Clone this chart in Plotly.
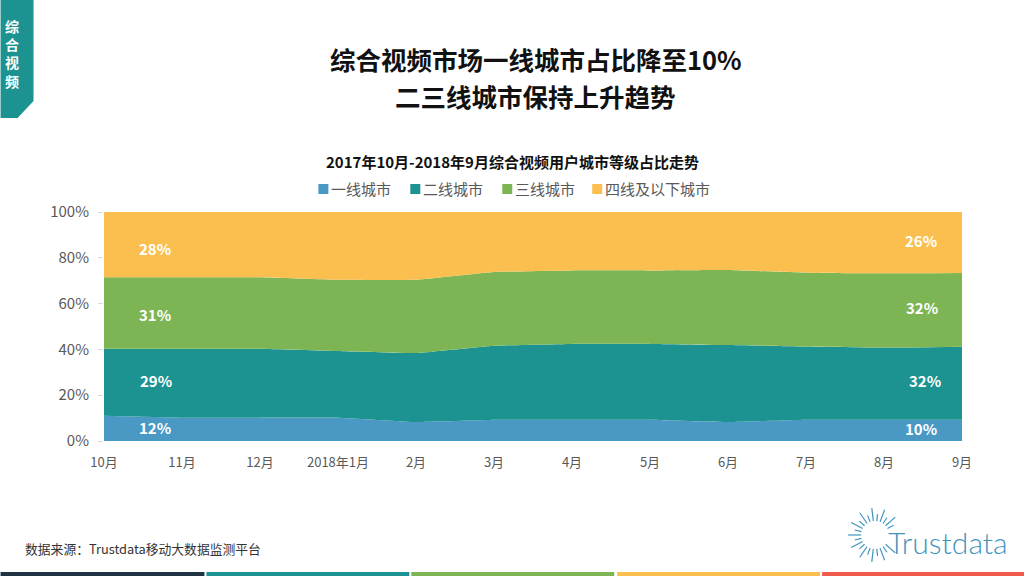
import math
import plotly.graph_objects as go

months = ["10月", "11月", "12月", "2018年1月", "2月", "3月", "4月", "5月", "6月", "7月", "8月", "9月"]
y_ticks = [0, 20, 40, 60, 80, 100]
y_labels = ["0%", "20%", "40%", "60%", "80%", "100%"]

names = ["一线城市", "二线城市", "三线城市", "四线及以下城市"]
tier1 = [11.0, 10.2, 10.2, 10.2, 8.3, 9.3, 9.3, 9.3, 8.3, 9.3, 9.3, 9.3]
tier2 = [29.3, 30.1, 30.1, 29.1, 30.1, 32.3, 33.1, 33.1, 33.6, 32.0, 31.5, 31.9]
tier3 = [31.2, 31.2, 31.2, 31.1, 32.0, 32.2, 32.1, 32.1, 32.8, 32.2, 32.4, 32.2]
tier4 = [28.5, 28.5, 28.5, 29.6, 29.6, 26.2, 25.5, 25.5, 25.3, 26.5, 26.8, 26.6]
colors = ["#4a98c4", "#1c9391", "#7db554", "#fbbf4f"]

label_text = ["12%", "29%", "31%", "28%", "10%", "32%", "32%", "26%"]
label_x = [0.66, 0.67, 0.66, 0.65, 10.47, 10.52, 10.49, 10.48]
label_y = [5.8, 26.3, 55.1, 83.9, 5.4, 26.3, 58.1, 87.4]

FONT = "Noto Sans CJK SC"
W, H = 1024, 576
L, R, T, B = 103.5, 962, 212, 441


def px(x):
    return (x - L) / (R - L)


def py(y):
    return (B - y) / (B - T)


fig = go.Figure()
x = list(range(len(months)))
for name, vals, col in zip(names, [tier1, tier2, tier3, tier4], colors):
    fig.add_trace(go.Scatter(
        x=x, y=vals, name=name, stackgroup="one", mode="lines", fillcolor=col,
        line=dict(width=0, color=col, shape="spline", smoothing=0.25),
        showlegend=False, hoverinfo="skip",
    ))

for t, lx, ly in zip(label_text, label_x, label_y):
    fig.add_annotation(x=lx, y=ly, text=t, showarrow=False,
                       font=dict(family=FONT, size=15, color="white", weight="bold"))


def paper_text(text, x, y, size, color, bold=False, family=FONT, xanchor="center", weight=None):
    fig.add_annotation(xref="paper", yref="paper", x=px(x), y=py(y), text=text, showarrow=False,
                       xanchor=xanchor, yanchor="middle",
                       font=dict(family=family, size=size, color=color,
                                 weight=weight or ("bold" if bold else "normal")))


def paper_rect(x0, y0, x1, y1, col):
    fig.add_shape(type="rect", xref="paper", yref="paper", line_width=0, fillcolor=col,
                  x0=px(x0), x1=px(x1), y0=py(y0), y1=py(y1))


paper_text("综合视频市场一线城市占比降至10%", 535.5, 58, 25.5, "#111111", True)
paper_text("二三线城市保持上升趋势", 535.5, 96, 25.5, "#111111", True)
paper_text("2017年10月-2018年9月综合视频用户城市等级占比走势", 512.5, 161, 15, "#111111", True)
paper_text("数据来源：Trustdata移动大数据监测平台", 22, 548, 12.8, "#333333", xanchor="left")

# legend row
for name, col, sx in zip(names, colors, [318, 410, 502, 592]):
    paper_rect(sx, 184, sx + 10, 194, col)
    paper_text(name, sx + 11, 188, 15, "#595959", xanchor="left")

# corner tag
paper_text("综<br>合<br>视<br>频", 11.5, 53, 14, "white", True)
fig.add_shape(type="path", xref="paper", yref="paper", layer="below", line_width=0,
              fillcolor="#1c9391",
              path=f"M {px(0)} {py(0)} L {px(33)} {py(0)} L {px(33)} {py(101)} L {px(17)} {py(118)} L {px(0)} {py(118)} Z")

# bottom strip
for x0, x1, col in [(0, 204, "#1f3344"), (206, 409, "#1c9391"), (411, 614, "#7db554"),
                    (617, 820, "#fbbf4f"), (822, 1024, "#ef5a4c")]:
    paper_rect(x0, 572, x1, 576, col)

# logo
n_rays = 26
for i in range(n_rays):
    deg = 360 * i / n_rays
    if deg < 35 or deg > 345:  # room for the T
        continue
    a = math.radians(deg)
    r0, r1 = 14, 27 if i % 2 else 21
    fig.add_shape(type="line", xref="paper", yref="paper",
                  line=dict(color="#3f95bf", width=1.2),
                  x0=px(875 + r0 * math.cos(a)), y0=py(535 + r0 * math.sin(a)),
                  x1=px(875 + r1 * math.cos(a)), y1=py(535 + r1 * math.sin(a)))
paper_text("Trustdata", 886, 542, 30, "#3f95bf", family="Lato", xanchor="left", weight=300)

fig.update_layout(
    width=W, height=H, margin=dict(l=L, r=W - R, t=T, b=H - B),
    paper_bgcolor="white", plot_bgcolor="white",
    font=dict(family=FONT, color="#595959"),
    showlegend=False,
    xaxis=dict(range=[0, 11], tickvals=x, ticktext=months,
               showgrid=False, zeroline=False, showline=False, ticks="", ticklabelstandoff=12,
               tickfont=dict(size=13, color="#595959")),
    yaxis=dict(range=[0, 100], tickvals=y_ticks, ticktext=y_labels,
               showgrid=False, zeroline=False, showline=False, ticks="outside", ticklen=5,
               ticklabelstandoff=6, tickcolor="#d9d9d9", tickfont=dict(size=15, color="#595959")),
)

fig.write_html("out.html", config=dict(displayModeBar=False),
               post_script="document.body.style.margin = '0';")
